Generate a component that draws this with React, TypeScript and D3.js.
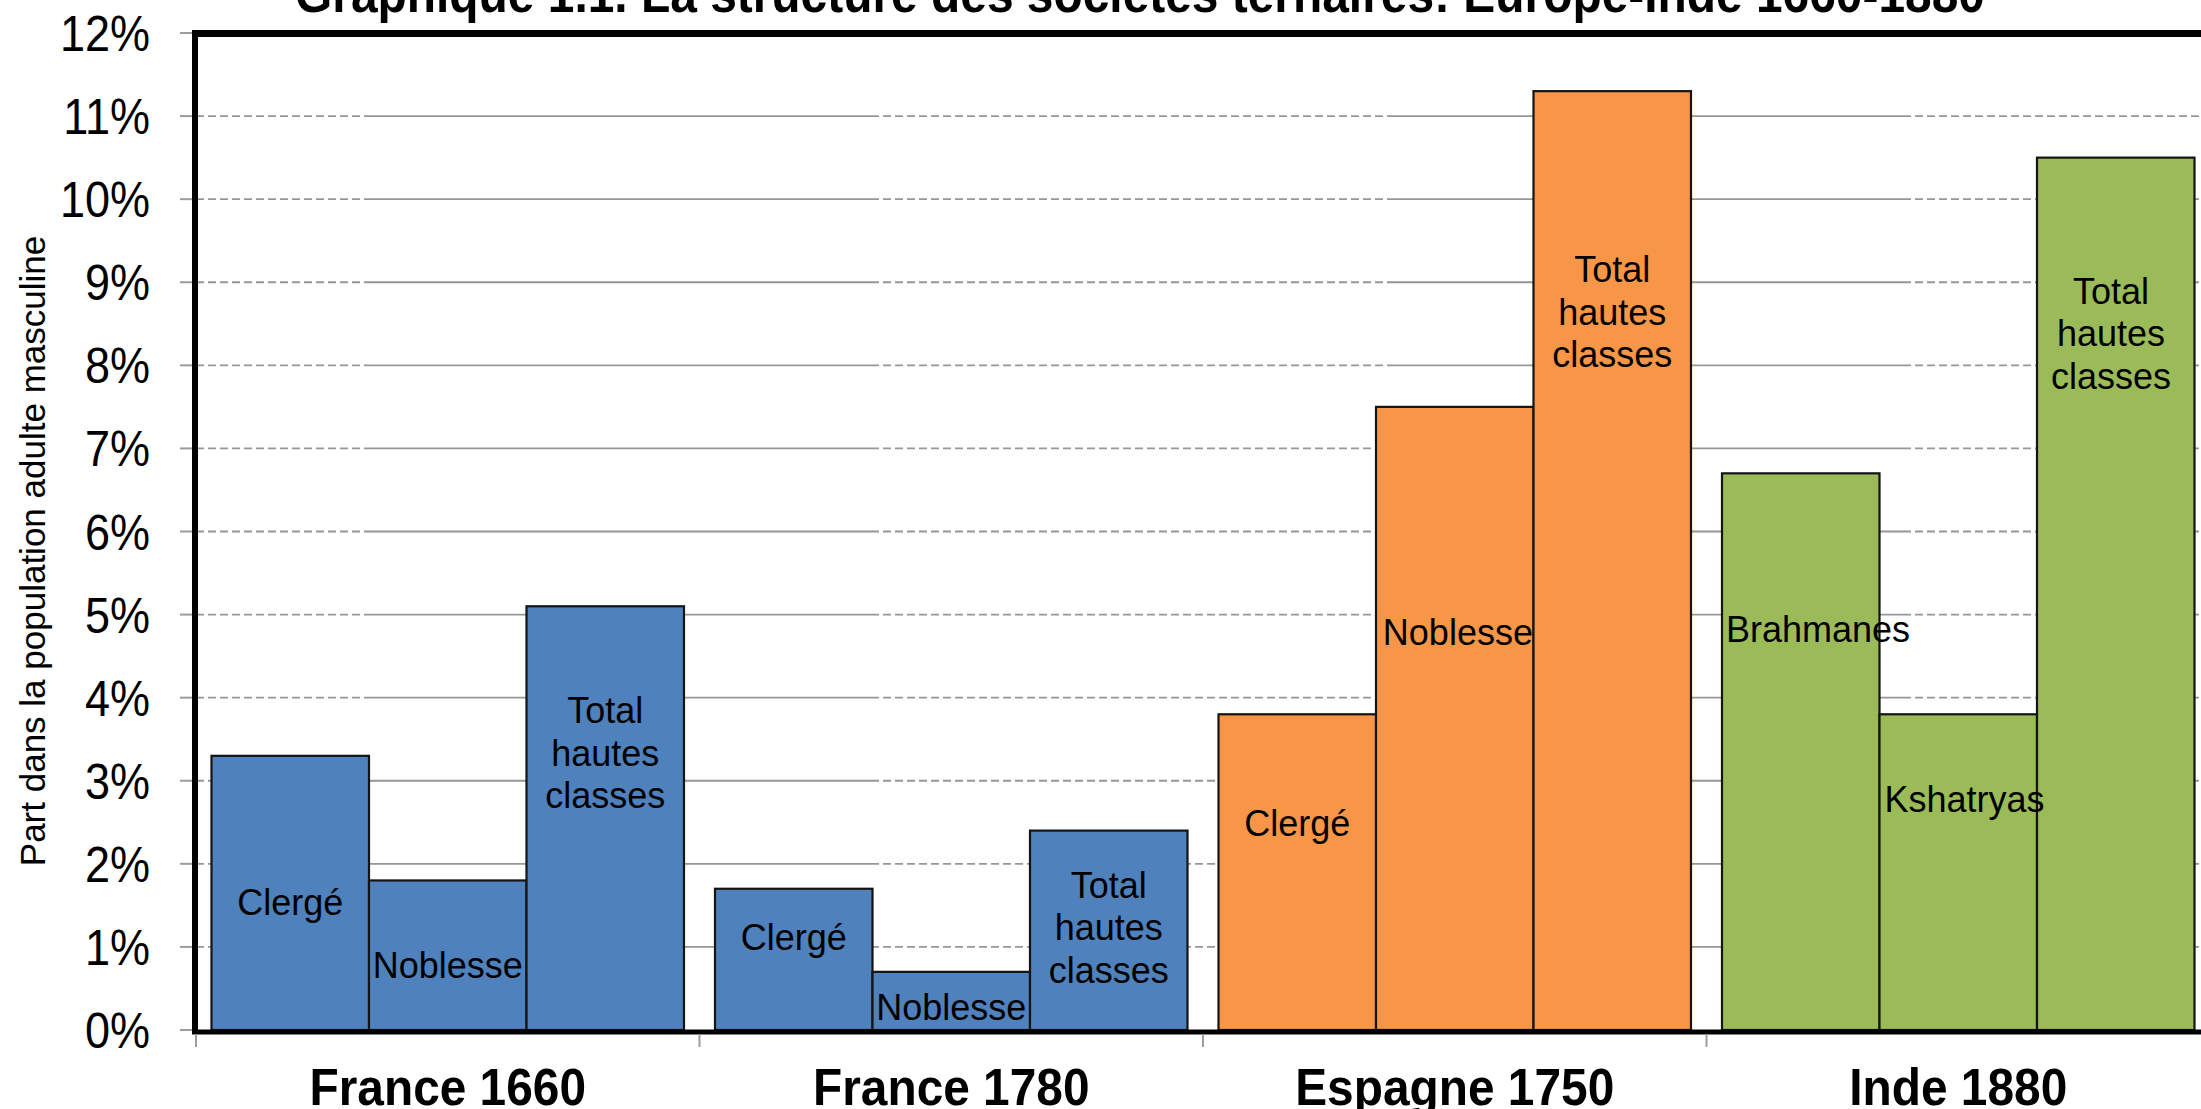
import React from "react";
import * as d3 from "d3";

const title = "Graphique 1.1. La structure des sociétés ternaires: Europe-Inde 1660-1880";
const yAxisTitle = "Part dans la population adulte masculine";
const categories = ["France 1660", "France 1780", "Espagne 1750", "Inde 1880"];
const barLabels = [
  ["Clergé", "Noblesse", "Total\nhautes\nclasses"],
  ["Clergé", "Noblesse", "Total\nhautes\nclasses"],
  ["Clergé", "Noblesse", "Total\nhautes\nclasses"],
  ["Brahmanes", "Kshatryas", "Total\nhautes\nclasses"],
];
const values = [
  [3.3, 1.8, 5.1],
  [1.7, 0.7, 2.4],
  [3.8, 7.5, 11.3],
  [6.7, 3.8, 10.5],
];
// label baseline (first line) expressed in axis units (%)
const labelAt = [
  [1.38, 0.63, 3.69],
  [0.96, 0.12, 1.59],
  [2.33, 4.63, 9.0],
  [4.67, 2.62, 8.74],
];
// horizontal label shift as a fraction of bar width
const labelShift = [
  [0, 0, 0],
  [0, 0, 0],
  [0, 0.02, 0],
  [0.11, 0.04, -0.03],
];
const groupColors = ["#4F81BD", "#4F81BD", "#F79646", "#9BBB59"];
const yTicks = [0, 1, 2, 3, 4, 5, 6, 7, 8, 9, 10, 11, 12];

const W = 2201;
const H = 1109;
const FONT = "'Liberation Sans', Arial, Helvetica, sans-serif";
const plotLeft = 196;
const plotRight = 2210;
const plotTop = 33;
const plotBottom = 1030;
// rendering style of the gridlines (dashed / solid stretches, as in the scan)
const gridSegments: [number, number, boolean][] = [
  [196, 368, true],
  [368, 871, false],
  [871, 1390, true],
  [1390, 1903, false],
  [1903, 2210, true],
];

export default function App() {
  const x = d3
    .scaleBand<string>()
    .domain(categories)
    .range([plotLeft, plotRight])
    .paddingInner(0.0616)
    .paddingOuter(0.0308);
  const sub = d3
    .scaleBand<number>()
    .domain([0, 1, 2])
    .range([0, x.bandwidth()])
    .padding(0);
  const y = d3.scaleLinear().domain([0, 12]).range([plotBottom, plotTop]);
  const step = x.step();
  const lineH = 42.5;

  return (
    <svg
      width={W}
      height={H}
      viewBox={`0 0 ${W} ${H}`}
      style={{ position: "fixed", left: 0, top: 0, background: "#fff" }}
      fontFamily={FONT}
    >
      <rect x={0} y={0} width={W} height={H} fill="#fff" />
      {/* gridlines */}
      {yTicks
        .filter((t) => t > 0 && t < 12)
        .map((t) =>
          gridSegments.map(([a, b, dashed], i) => (
            <line
              key={`g${t}-${i}`}
              x1={a}
              x2={b}
              y1={y(t)}
              y2={y(t)}
              stroke="#969696"
              strokeWidth={1.8}
              strokeDasharray={dashed ? "8,4" : undefined}
            />
          ))
        )}
      {/* bars */}
      {categories.map((c, gi) =>
        values[gi].map((v, si) => {
          const bx = (x(c) as number) + (sub(si) as number);
          return (
            <rect
              key={`b${gi}-${si}`}
              x={bx}
              y={y(v)}
              width={sub.bandwidth()}
              height={y(0) - y(v)}
              fill={groupColors[gi]}
              stroke="#141414"
              strokeWidth={2.2}
            />
          );
        })
      )}
      {/* bar labels */}
      {categories.map((c, gi) =>
        barLabels[gi].map((lab, si) => {
          const bw = sub.bandwidth();
          const cx = (x(c) as number) + (sub(si) as number) + bw / 2 + labelShift[gi][si] * bw;
          const lines = lab.split("\n");
          return (
            <text
              key={`l${gi}-${si}`}
              x={cx}
              y={y(labelAt[gi][si])}
              textAnchor="middle"
              fontSize={36}
              fill="#000"
            >
              {lines.map((ln, k) => (
                <tspan key={k} x={cx} dy={k === 0 ? 0 : lineH}>
                  {ln}
                </tspan>
              ))}
            </text>
          );
        })
      )}
      {/* axes frame */}
      <line x1={plotLeft - 1} x2={plotRight} y1={plotTop + 0.5} y2={plotTop + 0.5} stroke="#000" strokeWidth={7} />
      <line x1={plotLeft - 1} x2={plotLeft - 1} y1={plotTop - 3} y2={plotBottom + 4} stroke="#000" strokeWidth={6} />
      <line x1={plotLeft - 4} x2={plotRight} y1={plotBottom + 2} y2={plotBottom + 2} stroke="#000" strokeWidth={5} />
      {/* y ticks */}
      {yTicks.map((t) => (
        <g key={`yt${t}`}>
          <line x1={180} x2={plotLeft - 4} y1={y(t)} y2={y(t)} stroke="#9c9c9c" strokeWidth={2} />
          <text
            transform={`translate(150, ${y(t)}) scale(0.9, 1)`}
            dy="0.36em"
            textAnchor="end"
            fontSize={50}
            fill="#000"
          >
            {`${t}%`}
          </text>
        </g>
      ))}
      {/* x ticks */}
      {d3.range(categories.length + 1).map((i) => (
        <line
          key={`xt${i}`}
          x1={plotLeft + i * step}
          x2={plotLeft + i * step}
          y1={plotBottom + 4}
          y2={plotBottom + 17}
          stroke="#9c9c9c"
          strokeWidth={2}
        />
      ))}
      {/* x labels */}
      {categories.map((c) => (
        <text
          key={`xl${c}`}
          transform={`translate(${(x(c) as number) + x.bandwidth() / 2}, 1105) scale(0.92, 1)`}
          textAnchor="middle"
          fontSize={52}
          fontWeight="bold"
          fill="#000"
        >
          {c}
        </text>
      ))}
      {/* y-axis title */}
      <text
        transform={`translate(45, 551) rotate(-90)`}
        textAnchor="middle"
        fontSize={35}
        fill="#000"
      >
        {yAxisTitle}
      </text>
      {/* title */}
      <text
        transform={`translate(1140, 12) scale(0.93, 1)`}
        textAnchor="middle"
        fontSize={51.5}
        fontWeight="bold"
        fill="#000"
      >
        {title}
      </text>
    </svg>
  );
}
